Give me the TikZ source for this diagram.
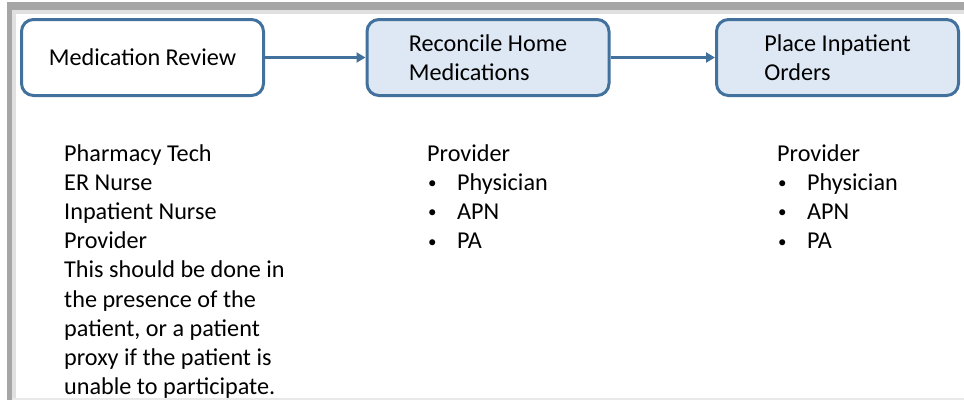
\documentclass[tikz,border=0pt]{standalone}
\usepackage{fontspec}
\setmainfont{Carlito}
\usetikzlibrary{arrows.meta}
\definecolor{boxline}{HTML}{41719C}
\definecolor{boxfill}{HTML}{DDE8F4}
\definecolor{framegray}{HTML}{A6A6A6}
\tikzset{
  procbox/.style={draw=boxline, line width=3pt, rounded corners=12pt,
    minimum width=242pt, minimum height=76pt, inner sep=0pt,
    align=left, font=\fontsize{24.2}{29}\selectfont},
  flow/.style={draw=boxline, line width=3pt,
    -{Triangle[length=9pt,width=10pt]}},
  roletext/.style={anchor=base west, inner sep=0pt}
}
\newcommand{\bulletitem}[1]{\makebox[30pt][l]{\hspace{1pt}{\fontsize{17}{17}\selectfont\raisebox{1.5pt}{\textbullet}}}#1}
\begin{document}
\begin{tikzpicture}[x=1pt,y=-1pt]
\useasboundingbox (0,0) rectangle (964,400);
\fill[white] (0,0) rectangle (964,400);
% frame
\fill[framegray!35] (12,10) rectangle (964,14);
\fill[framegray!35] (12,10) rectangle (16,400);
\fill[framegray] (7,2) rectangle (964,10);
\fill[framegray] (7,2) rectangle (12,400);
\fill[framegray!25] (12,397.5) rectangle (964,400);
% boxes
\node[procbox, fill=white] (b1) at (142.5,57.5) {Medication Review};
\node[procbox, fill=boxfill] (b2) at (488,57.5) {Reconcile Home\\Medications};
\node[procbox, fill=boxfill] (b3) at (837.5,57.5) {Place Inpatient\\Orders};
\draw[flow] (b1.east) -- (b2.west);
\draw[flow] (b2.east) -- (b3.west);
% role texts
\node[roletext] (r1) at (64,161) {\begin{minipage}[t]{300pt}\fontsize{24.2}{29.2}\selectfont
Pharmacy Tech\\ER Nurse\\Inpatient Nurse\\Provider\\This should be done in\\the presence of the\\patient, or a patient\\proxy if the patient is\\unable to participate.\end{minipage}};
\node[roletext] (r2) at (427,161) {\begin{minipage}[t]{300pt}\fontsize{24.2}{29.2}\selectfont
Provider\\\bulletitem{Physician}\\\bulletitem{APN}\\\bulletitem{PA}\end{minipage}};
\node[roletext] (r3) at (777,161) {\begin{minipage}[t]{180pt}\fontsize{24.2}{29.2}\selectfont
Provider\\\bulletitem{Physician}\\\bulletitem{APN}\\\bulletitem{PA}\end{minipage}};
\end{tikzpicture}
\end{document}
